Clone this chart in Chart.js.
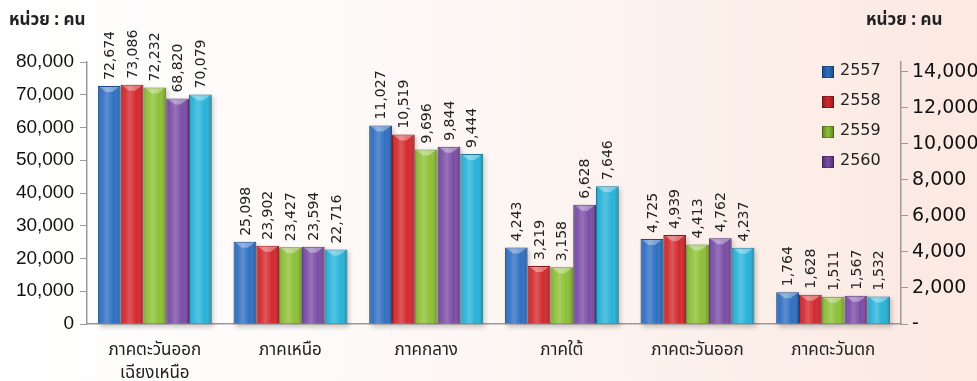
<!DOCTYPE html>
<html>
<head>
<meta charset="utf-8">
<script src="https://cdn.jsdelivr.net/npm/chart.js@4"></script>
<style>
  html, body { margin: 0; padding: 0; overflow: hidden; }
  body { background: linear-gradient(to right, #ffffff 0%, #fdf8f6 45%, #fbe8e1 100%); }
  #wrap { position: relative; width: 977px; height: 381px; }
</style>
</head>
<body>
<div id="wrap"><canvas id="chart"></canvas></div>
<script>
// ข้อมูลจำนวนคน แยกตามภาค (ปี 2557 - 2561)
const categories = [['ภาคตะวันออก', 'เฉียงเหนือ'], 'ภาคเหนือ', 'ภาคกลาง', 'ภาคใต้', 'ภาคตะวันออก', 'ภาคตะวันตก'];
const years = ['2557', '2558', '2559', '2560', '2561'];
const v2557 = [72674, 25098, 11027, 4243, 4725, 1764];
const v2558 = [73086, 23902, 10519, 3219, 4939, 1628];
const v2559 = [72232, 23427, 9696, 3158, 4413, 1511];
const v2560 = [68820, 23594, 9844, 6628, 4762, 1567];
const v2561 = [70079, 22716, 9444, 7646, 4237, 1532];
const series = [v2557, v2558, v2559, v2560, v2561];
// สองภาคแรกใช้แกนซ้าย ที่เหลือใช้แกนขวา
const leftAxisCats = [0, 1];
const leftTicks = [0, 10000, 20000, 30000, 40000, 50000, 60000, 70000, 80000];
const rightTicks = [0, 2000, 4000, 6000, 8000, 10000, 12000, 14000];
const legendYears = ['2557', '2558', '2559', '2560'];
const unitText = 'หน่วย : คน';

const colors = ['#2f6fc2', '#d3282c', '#8dbf35', '#7a4ca6', '#27b2d8'];
const borders = ['#1d4a85', '#8e1a1c', '#5e8420', '#4f2f70', '#1a7a95'];

const fmt = v => v.toLocaleString('en-US');

// แยก dataset ตามแกน
const datasets = [];
['y', 'y1'].forEach(axis => {
  series.forEach((vals, i) => {
    datasets.push({
      label: years[i],
      yAxisID: axis,
      data: vals.map((v, c) => (leftAxisCats.includes(c) === (axis === 'y')) ? v : null),
      backgroundColor: colors[i],
      borderColor: borders[i],
      borderWidth: 1,
      skipNull: true,
      categoryPercentage: 0.84,
      barPercentage: 1.0
    });
  });
});

// เงาใต้แท่ง + ไล่สีให้ดูนูน + ตัวเลขแนวตั้ง
const barStyle = {
  id: 'barStyle',
  beforeDatasetsDraw(chart) {
    const ctx = chart.ctx;
    ctx.save();
    chart.data.datasets.forEach((ds, di) => {
      const meta = chart.getDatasetMeta(di);
      meta.data.forEach((bar, j) => {
        if (ds.data[j] == null) return;
        const w = bar.width;
        ctx.fillStyle = 'rgba(0,0,0,0.18)';
        ctx.filter = 'blur(2px)';
        ctx.fillRect(bar.x - w / 2 + 2, bar.y + 2, w, bar.base - bar.y + 2);
      });
    });
    ctx.restore();
  },
  afterDatasetsDraw(chart) {
    const ctx = chart.ctx;
    ctx.save();
    chart.data.datasets.forEach((ds, di) => {
      const meta = chart.getDatasetMeta(di);
      meta.data.forEach((bar, j) => {
        const v = ds.data[j];
        if (v == null) return;
        const w = bar.width, l = bar.x - w / 2, h = bar.base - bar.y;
        const g = ctx.createLinearGradient(l, 0, l + w, 0);
        g.addColorStop(0, 'rgba(0,0,0,0.22)');
        g.addColorStop(0.18, 'rgba(255,255,255,0.05)');
        g.addColorStop(0.4, 'rgba(255,255,255,0.22)');
        g.addColorStop(0.7, 'rgba(255,255,255,0.0)');
        g.addColorStop(1, 'rgba(0,0,0,0.28)');
        ctx.fillStyle = g;
        ctx.fillRect(l + 1, bar.y + 1, w - 2, h - 1);
        // ขอบบนสว่าง
        ctx.fillStyle = 'rgba(255,255,255,0.35)';
        ctx.beginPath();
        ctx.moveTo(l + 2, bar.y + 1);
        ctx.lineTo(l + w - 2, bar.y + 1);
        ctx.lineTo(bar.x + 3, bar.y + 6);
        ctx.lineTo(bar.x - 3, bar.y + 6);
        ctx.closePath();
        ctx.fill();
        // ตัวเลข
        ctx.save();
        ctx.translate(bar.x + 1, bar.y - 6);
        ctx.rotate(-Math.PI / 2);
        ctx.font = '14px "DejaVu Sans"';
        ctx.fillStyle = '#222';
        ctx.textAlign = 'left';
        ctx.textBaseline = 'middle';
        ctx.fillText(fmt(v), 0, 0);
        ctx.restore();
      });
    });
    ctx.restore();
  }
};

// คำอธิบายและหน่วย
const extras = {
  id: 'extras',
  afterDraw(chart) {
    const ctx = chart.ctx;
    ctx.save();
    ctx.font = 'bold 17px "Noto Sans Thai", "Noto Sans", sans-serif';
    ctx.fillStyle = '#222';
    ctx.textBaseline = 'middle';
    ctx.textAlign = 'left';
    ctx.fillText(unitText, 9, 22);
    ctx.fillText(unitText, 866, 22);
    legendYears.forEach((y, i) => {
      const by = 72 + i * 30;
      const bx = 822;
      const g = ctx.createLinearGradient(bx, 0, bx + 12, 0);
      g.addColorStop(0, borders[i]);
      g.addColorStop(0.5, colors[i]);
      g.addColorStop(1, borders[i]);
      ctx.fillStyle = g;
      ctx.fillRect(bx, by - 6, 12, 12);
      ctx.strokeStyle = 'rgba(0,0,0,0.25)';
      ctx.strokeRect(bx + 0.5, by - 5.5, 11, 11);
      ctx.fillStyle = '#222';
      ctx.font = '16px "DejaVu Sans"';
      ctx.fillText(y, 840, by - 1);
    });
    ctx.restore();
  }
};

new Chart(document.getElementById('chart'), {
  type: 'bar',
  data: { labels: categories, datasets: datasets },
  options: {
    responsive: true,
    maintainAspectRatio: false,
    animation: false,
    layout: { padding: { top: 62, left: 0, right: 0, bottom: 0 } },
    plugins: { legend: { display: false }, tooltip: { enabled: false } },
    scales: {
      x: {
        grid: { display: false },
        border: { display: true, color: '#9a9a9a', width: 1.5 },
        ticks: {
          color: '#222',
          padding: 9,
          font: { family: '"Noto Sans Thai", "Noto Sans", sans-serif', size: 17, lineHeight: 1.3 },
          maxRotation: 0, autoSkip: false
        },
        afterFit(s) { s.height = 57; }
      },
      y: {
        position: 'left',
        min: 0, max: 80000,
        grid: { drawOnChartArea: false, drawTicks: true, tickLength: 7, color: '#9a9a9a' },
        border: { display: true, color: '#9a9a9a', width: 1.5 },
        afterBuildTicks(s) { s.ticks = leftTicks.map(v => ({ value: v })); },
        ticks: {
          color: '#111',
          padding: 6,
          font: { family: '"Liberation Sans", Arial', size: 19 },
          callback: v => fmt(v)
        },
        afterFit(s) { s.width = 87; }
      },
      y1: {
        position: 'right',
        min: 0, max: 14550,
        grid: { drawOnChartArea: false, drawTicks: true, tickLength: 7, color: '#9a9a9a' },
        border: { display: true, color: '#9a9a9a', width: 1.5 },
        afterBuildTicks(s) { s.ticks = rightTicks.map(v => ({ value: v })); },
        ticks: {
          color: '#111',
          padding: 4,
          font: { family: '"DejaVu Sans"', size: 19 },
          callback: v => v === 0 ? '-' : fmt(v)
        },
        afterFit(s) { s.width = 76; }
      }
    }
  },
  plugins: [barStyle, extras]
});
</script>
</body>
</html>
